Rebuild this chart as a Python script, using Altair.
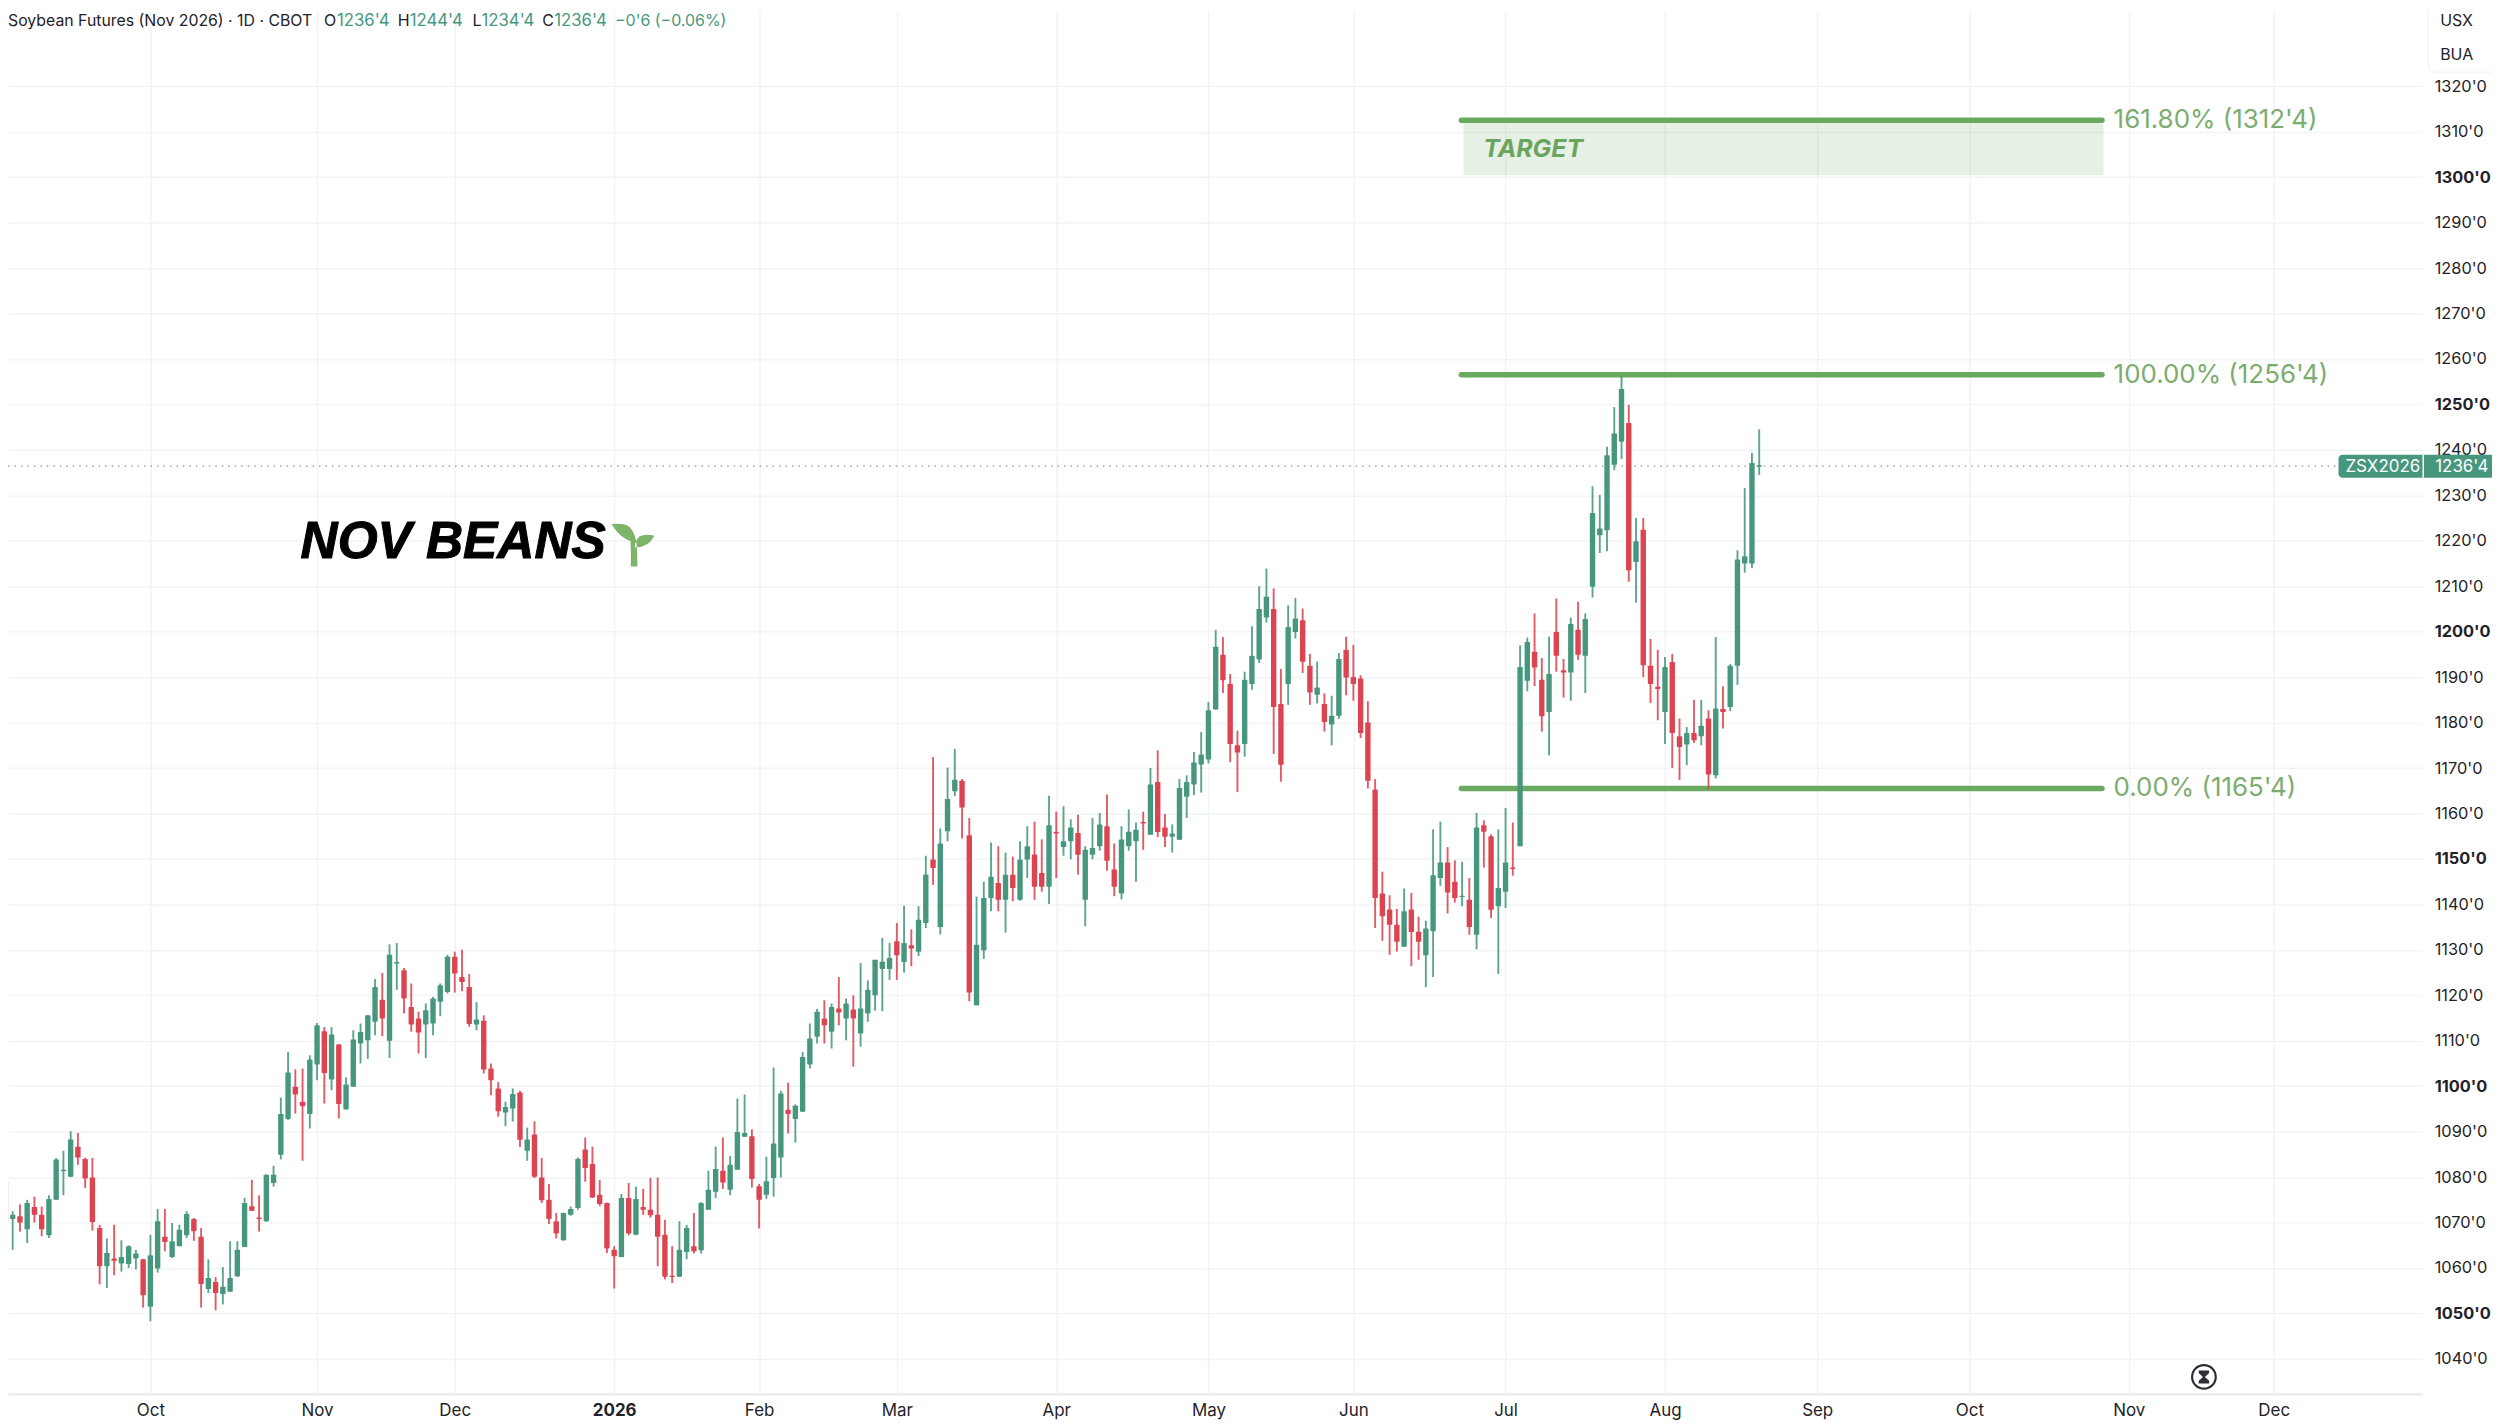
import json
import altair as alt
import pandas as pd

# daily candles, oldest first: body top, body bottom, high, low
body_top = [
1079,1071.7,1071.4,1074.3,1073.4,1071.7,1075.2,1083.9,1081.6,1088.3,
1086.7,1084,1079.9,1068.8,1063.3,1062.1,1062.4,1064.8,1063.2,1061.9,
1062.8,1070.3,1066.9,1065.9,1068.4,1071.9,1070.8,1066.9,1057.8,1056.9,
1055.9,1057.8,1064,1074.3,1073.6,1071.1,1080.5,1080.5,1093.9,1103,
1099.9,1096.6,1105.9,1113.4,1112.1,1111.4,1109.2,1100.4,1110.3,1111.9,
1115.6,1121.8,1119,1128.9,1127.3,1125.5,1117.4,1114.9,1116.7,1119.3,
1122.2,1128.5,1128.5,1124,1121.8,1114.7,1114.4,1103.9,1099.5,1095.4,
1098.3,1098.6,1088.3,1089.4,1079.9,1075,1070.3,1072.1,1073,1084,
1086.1,1082.9,1076.1,1074.3,1064,1075.4,1075.4,1075.2,1073.4,1072.8,
1071.7,1067.3,1058.3,1064,1068.8,1064.8,1074.3,1077.2,1081.8,1081.4,
1082.7,1089.9,1089.7,1089,1078,1079.1,1087.4,1098.4,1094.8,1095.7,
1106.4,1110.5,1116.4,1114.9,1117.4,1117.1,1118.2,1116.9,1117.1,1121.2,
1127.8,1127.4,1128.2,1131.9,1131.5,1131,1136.6,1146.6,1149.9,1153.4,
1163.2,1167.4,1167.2,1155.2,1131.1,1141.4,1146.1,1144.7,1146.5,1146.5,
1149.9,1152.8,1151,1146.9,1157.4,1155.9,1153.9,1156.9,1155.7,1152,
1152.4,1157.6,1157.2,1147.7,1154.3,1156,1156.4,1158.1,1166.4,1166.9,
1156.9,1155.6,1165.6,1166.9,1171.2,1173,1182.7,1196.7,1194.9,1188.5,
1175,1189.4,1194.7,1205,1207.7,1205,1184.1,1201,1202.9,1202.5,
1192.5,1187.7,1184.1,1181.5,1194,1196,1190,1189.7,1180,1165.3,
1142.4,1138.9,1135.5,1138.5,1138.9,1134,1134.7,1146.4,1149.2,1149.2,
1145,1141.9,1141,1156.9,1157.4,1155,1143.6,1149.2,1148.1,1192.2,
1197.7,1195.6,1189.4,1190.7,1199.9,1191.5,1201.7,1200.4,1202.8,1226.1,
1222.7,1238.8,1243.6,1253.4,1245.9,1219.9,1222.4,1192.5,1187.9,1192.2,
1193.3,1177,1177.7,1177.7,1179.3,1180.9,1183.1,1183,1192.5,1215.9,
1216.6,1237.1,1236.6]
body_bottom = [
1070,1070.8,1070,1068.5,1071.7,1068.5,1067.2,1075,1081.3,1080.1,
1084.3,1079.7,1070.1,1060.4,1060.4,1061.6,1061,1060.9,1062.1,1054,
1051.5,1059.9,1065.7,1062.4,1064.8,1067.2,1068.1,1056.5,1055.4,1054.5,
1054.3,1054.8,1058.2,1064.6,1072.6,1070.8,1070.3,1078.7,1084.9,1092.8,
1098.2,1095.6,1093.9,1104.8,1102.9,1101.5,1096.1,1094.9,1099.9,1109.4,
1110.1,1114.2,1114.9,1110,1127,1119.3,1113.6,1111.8,1113.6,1113.8,
1118.6,1120.7,1124.8,1122.9,1113.7,1113.6,1103.7,1101.3,1094.5,1094.2,
1095.1,1088.2,1085.8,1080.1,1074.9,1070.8,1067.6,1066.1,1071.7,1073.2,
1082,1075.5,1074.1,1064.3,1062.6,1062.4,1067.6,1067.3,1072.8,1071.6,
1066.9,1058.1,1058,1058.1,1063.5,1063.7,1063.9,1072.8,1076.8,1078.8,
1077.2,1081.6,1088.9,1079.6,1075,1076.1,1079.8,1084.3,1093.9,1092.8,
1094.4,1104.8,1110.9,1113.4,1112,1116.2,1114.9,1114.9,1111.6,1116,
1120,1125.8,1125.8,1128.8,1127.3,1130.3,1129.6,1135.9,1148,1135,
1156.1,1164.9,1161.3,1120.6,1117.8,1129.9,1141.4,1141,1141,1143.6,
1141,1149.9,1143.9,1143.9,1143.9,1155.6,1152.6,1153.9,1150.9,1141,
1150.9,1152.8,1149.6,1143.9,1142.4,1152.8,1153.9,1157.8,1155.3,1155.9,
1154.9,1154.9,1154.2,1163.7,1166.4,1170.8,1171.9,1182.9,1189.3,1175.3,
1173.4,1175.3,1188.5,1193.9,1203.1,1183.4,1170.7,1188.5,1199.9,1193.4,
1186.6,1186.1,1180.1,1179.6,1181.5,1189.9,1188.5,1177.7,1167.2,1141.4,
1137.4,1135.5,1131.8,1130.7,1133.9,1131.8,1128.8,1134.1,1145.8,1142.6,
1141.4,1141.6,1135,1133.3,1156,1138.8,1139.6,1142.8,1147.8,1152.8,
1189.2,1192.1,1181.4,1182.3,1194.7,1191,1191,1194.9,1194.7,1209.9,
1221.2,1222.3,1236.7,1241.8,1213.5,1215.3,1192.6,1188.5,1187.4,1182.3,
1177.7,1174.6,1175.2,1176.1,1177,1168.6,1168.4,1182.3,1183.4,1192.5,
1215,1215,1236.3]
high = [
1082,1072.5,1074,1075,1075.7,1073.5,1076,1084.2,1085.8,1090.1,
1089.7,1084.3,1084.2,1069.5,1066.5,1069.5,1066.1,1065,1064,1062,
1067.3,1073,1073,1069.9,1069.5,1072.5,1071,1068.8,1061.9,1058,
1060.2,1065.9,1065.9,1075.4,1079.4,1076,1080.6,1082.5,1097.5,1107.5,
1103.7,1103.9,1106.8,1113.9,1113,1113,1109.3,1101.9,1112.3,1113.8,
1115.6,1123.6,1124.9,1131.2,1131.5,1126,1122.6,1116.4,1118.2,1119.6,
1122.6,1128.9,1129.6,1130,1124.7,1118.5,1115.6,1105,1100.9,1096.6,
1099.5,1099,1090.9,1092.3,1084.2,1078.5,1072.1,1072.2,1073.5,1084.3,
1088.7,1086.7,1079.4,1074.4,1064.8,1076.3,1078.7,1077.9,1077.4,1079.8,
1079.9,1070.6,1064.8,1070.3,1069.5,1072.1,1074.5,1081.4,1086.7,1088.7,
1084.7,1097.3,1098.2,1090.5,1078.5,1084.5,1104.1,1099,1100.8,1096,
1107.5,1113.8,1117,1118.9,1118.2,1124,1119.3,1120,1127.1,1123.3,
1127.8,1132.6,1131.5,1135.9,1139.7,1134.5,1139.6,1150.7,1172.4,1156.7,
1170.1,1174.2,1167.6,1159,1141.7,1145,1153.6,1152.8,1151.4,1150.5,
1153.9,1157.2,1158.2,1154.3,1163.9,1160.4,1161.6,1158.7,1159.7,1152.8,
1159,1160.1,1164.2,1153.4,1157.2,1160.9,1158,1160.4,1170,1173.9,
1159.9,1157.6,1167.6,1168.4,1173.5,1177.9,1184.5,1200.4,1198.8,1190.7,
1178.2,1191.2,1201.2,1210,1213.9,1209.5,1191.8,1205.8,1207.4,1205.1,
1195.1,1193.4,1186.4,1185.9,1195.3,1198.9,1197.1,1190.4,1184.7,1167.6,
1147.2,1142,1139,1143.5,1142.5,1137.3,1136.4,1156.5,1158.2,1152.6,
1149.7,1149.4,1145.8,1160.1,1158.5,1155.4,1156.5,1161.2,1158,1197,
1198.7,1204,1194.2,1198.9,1207.3,1194,1203.1,1206.6,1204,1232,
1230.1,1240.7,1249.4,1256.5,1249.9,1225,1225,1198.4,1196,1194.4,
1195.1,1180.9,1179,1185,1185,1182.7,1198.8,1188,1192.9,1217.9,
1231.6,1239.3,1244.5]
low = [
1069,1064,1068,1065.5,1070,1067,1066.6,1075,1076,1080,
1082.7,1077.6,1068.2,1056.4,1055.6,1058.4,1059.2,1060,1059.7,1051.3,
1048.3,1059,1063.7,1062.2,1064.8,1066.6,1066,1051.3,1054.5,1050.7,
1052,1054.8,1058,1064.6,1072.6,1068,1070.2,1077.9,1083.9,1092.6,
1094,1083.6,1090.7,1101.3,1096.2,1099.1,1092.9,1094.9,1099.9,1105,
1106,1111.2,1111,1106.2,1121.2,1116,1112,1107.2,1106.2,1111.2,
1115.4,1120.4,1120.6,1120.9,1113.1,1112.3,1102.8,1098,1093.3,1091.2,
1092.2,1086.6,1083.6,1079.8,1074.3,1069.7,1066.5,1066,1071.5,1072.8,
1079,1075.4,1073.6,1063.3,1055.5,1062.4,1067.2,1067.2,1071.7,1071.1,
1060.4,1057.5,1056.7,1058,1061.9,1063.2,1063.2,1072.8,1075.4,1077.4,
1076,1081.6,1088.9,1077.7,1068.7,1075.2,1075.7,1079.9,1089.6,1087.6,
1094.4,1103.9,1109.4,1109.4,1108.3,1113.4,1110.1,1104.3,1108.7,1114.2,
1116.6,1116.5,1123.4,1123.4,1125,1126.4,1128.6,1134.8,1144.3,1133.4,
1153.9,1163.8,1154.5,1118.7,1117.8,1128,1138.5,1138.5,1133.8,1140.7,
1140.8,1145.8,1141,1142.8,1140.1,1145.8,1150.7,1149.9,1146.6,1135.2,
1149.9,1151.8,1147.4,1141.8,1141.1,1151.8,1145,1152,1155.3,1154.8,
1152.6,1151.4,1154.2,1159,1164,1164.6,1171,1182.9,1186.5,1171.3,
1164.7,1172.5,1187.2,1193.1,1202,1173.1,1167,1183.9,1198.5,1190.9,
1183.9,1184.2,1178,1175,1180.8,1186,1184.8,1176.6,1165.5,1134.8,
1132,1128.9,1129.6,1130.7,1126.4,1127.8,1121.8,1124,1144.1,1138,
1140.4,1139.6,1133.3,1130.1,1148.1,1137,1124.7,1139.2,1146.3,1152.8,
1186.9,1188,1178,1172.8,1191.2,1185.5,1184.8,1193.8,1186.5,1207.5,
1217.3,1217.7,1235.5,1238,1211,1206.4,1190,1184.3,1180.5,1175.3,
1170,1167.4,1170.6,1175.5,1175,1165.3,1167.7,1178.7,1182.5,1188.3,
1213,1214,1234.5]
# sessions (by position in the lists above) that closed lower than they opened
down_days = [0,2,4,5,10,11,12,13,15,19,22,26,27,29,34,35,40,41,44,46,52,55,56,57,62,63,64,66,67,68,
71,73,74,75,76,80,81,82,83,84,86,88,89,90,91,92,95,99,103,104,108,113,115,117,123,125,128,132,133,137,139,
142,143,145,148,152,153,157,159,160,168,169,170,175,176,179,180,182,185,186,187,188,189,190,191,192,194,195,
199,200,202,204,205,208,211,212,214,215,217,224,226,227,228,230,231,233,235,237]

month_at = [20,43,62,84,104,123,145,166,186,207,229,250,271,293,313]
month_name = ["Oct","Nov","Dec","2026","Feb","Mar","Apr","May","Jun","Jul","Aug","Sep","Oct","Nov","Dec"]
price_ticks = list(range(1040,1330,10))

fib_levels = [1312.5,1256.5,1165.5]
fib_labels = ["161.80% (1312'4)","100.00% (1256'4)","0.00% (1165'4)"]
last_close = 1236.4

df = pd.DataFrame({"i":range(len(high)),"top":body_top,"bot":body_bottom,"high":high,"low":low})
df["dir"] = ["r" if k in down_days else "g" for k in df["i"]]

GREEN="#47977f"; RED="#db4450"; LINE="#6aa95f"; LAB="#7bad6e"; INK="#1f2228"; GRID="#f2f3f5"
FONT="Inter"

xs = alt.Scale(domain=[1.041,332.8],nice=False,zero=False)
ys = alt.Scale(domain=[1032.32,1336.71],nice=False,zero=False)
col = alt.Color("dir:N",scale=alt.Scale(domain=["g","r"],range=[GREEN,RED]),legend=None)

x_axis = alt.Axis(values=month_at,title=None,grid=True,gridColor=GRID,gridWidth=1.5,ticks=False,
    domainColor="#ebecee",domainWidth=2.5,labelFont=FONT,labelFontSize=17,labelColor=INK,labelPadding=9,
    labelOverlap=False,labelFlush=False,labelBound=False,
    labelExpr=f"{json.dumps(month_name)}[indexof({json.dumps(month_at)}, datum.value)]",
    labelFontWeight=alt.condition("datum.value == 84",alt.value("bold"),alt.value("normal")))
y_axis = alt.Axis(values=price_ticks,orient="right",title=None,grid=True,gridColor=GRID,gridWidth=1.5,
    ticks=False,domain=False,labelFont=FONT,labelFontSize=16.4,labelColor=INK,labelPadding=12,labelAlign="left",
    labelOverlap=False,labelFlush=False,labelBound=False,labelExpr="datum.value + \"'0\"",
    labelFontWeight=alt.condition("datum.value % 50 == 0",alt.value("bold"),alt.value("normal")))

Xf = lambda f: alt.X(f,scale=xs,axis=x_axis)
Yf = lambda f: alt.Y(f,scale=ys,axis=y_axis)

target = alt.Chart(pd.DataFrame({"a":[201.2],"b":[289.5],"p":[1312.5],"q":[1300.4]})).mark_rect(
    color=LINE,opacity=0.17).encode(x=Xf("a:Q"),x2="b:Q",y=Yf("p:Q"),y2="q:Q")

lines = alt.Chart(pd.DataFrame({"a":[200.9]*3,"b":[289.3]*3,"p":fib_levels})).mark_rule(
    color=LINE,strokeWidth=5.5,strokeCap="round").encode(x=Xf("a:Q"),x2="b:Q",y=Yf("p:Q"))

dotted = alt.Chart(pd.DataFrame({"p":[last_close]})).mark_rule(color="#8b9099",strokeWidth=1.2,strokeDash=[1.5,5]).encode(
    x=alt.value(0),x2=alt.value(2338),y=Yf("p:Q"))

wicks = alt.Chart(df).mark_rule(strokeWidth=1.9,opacity=0.88).encode(x=Xf("i:Q"),y=Yf("low:Q"),y2="high:Q",color=col)
bodies = alt.Chart(df).mark_bar(size=5.4,cornerRadius=0.6).encode(x=Xf("i:Q"),y=Yf("top:Q"),y2="bot:Q",color=col)

fib_text = alt.Chart(pd.DataFrame({"t":fib_labels,"p":fib_levels,"a":[290.9]*3})).mark_text(
    align="left",baseline="middle",font=FONT,fontSize=26,color=LAB).encode(x=Xf("a:Q"),y=Yf("p:Q"),text="t:N")

def label(text,x,y,size,color=INK,align="left",**kw):
    return alt.Chart(pd.DataFrame({"t":[text]})).mark_text(align=align,baseline="middle",font=kw.pop("font",FONT),
        fontSize=size,color=color,**kw).encode(x=alt.value(x),y=alt.value(y),text="t:N")

head = [("Soybean Futures (Nov 2026) · 1D · CBOT",0,15.9,INK),("O",317,16,INK),("1236'4",330,16.8,GREEN),("H",391,16,INK),
        ("1244'4",403,16.8,GREEN),("L",466,16,INK),("1234'4",475,16.8,GREEN),("C",536,16,INK),("1236'4",548,16.8,GREEN),
        ("\u22120'6 (\u22120.06%)",609,16,GREEN)]
heads = [label(t,x,11,s,c) for t,x,s,c in head]

target_text = label("TARGET",1480,139,25,"#6aa55f",fontWeight="bold",fontStyle="italic")
title_text = label("NOV BEANS",293.5,534,51.5,"#000000",font="Liberation Sans",fontWeight="bold",fontStyle="italic",
    stroke="#000000",strokeWidth=1)

sprout = "M-0.98 -0.98 Q-0.4 -1.05 -0.15 -0.85 Q0.1 -0.55 0.15 -0.15 Q-0.5 -0.2 -0.98 -0.98Z M0.98 -0.45 Q0.55 -0.55 0.3 -0.42 Q0.1 -0.2 0.08 0.08 Q0.7 0.1 0.98 -0.45Z M-0.12 -0.25 L0.15 -0.25 Q0.2 0.3 0.2 0.95 L-0.1 0.95 Q-0.08 0.3 -0.12 -0.25Z"
sprout_mark = alt.Chart(pd.DataFrame({"k":[1]})).mark_point(shape=sprout,filled=True,size=1936,color="#7eb36a",opacity=1,strokeWidth=0).encode(
    x=alt.value(627),y=alt.value(537))

hour_ring = alt.Chart(pd.DataFrame({"k":[1]})).mark_point(shape="circle",size=560,filled=False,color="#2c2f36",strokeWidth=2.2,opacity=1).encode(
    x=alt.value(2203),y=alt.value(1371))
glass = "M-0.8 -1 L0.8 -1 L0.8 -0.6 L0.15 0 L0.8 0.6 L0.8 1 L-0.8 1 L-0.8 0.6 L-0.15 0 L-0.8 -0.6Z"
hour_in = alt.Chart(pd.DataFrame({"k":[1]})).mark_point(shape=glass,size=170,filled=True,color="#2c2f36",opacity=1,strokeWidth=0).encode(
    x=alt.value(2203),y=alt.value(1371))

box = alt.Chart(pd.DataFrame({"k":[1]})).mark_rect(fill="#ffffff",stroke="#f1f2f4",strokeWidth=1.2,cornerRadius=6).encode(
    x=alt.value(2428),x2=alt.value(2500),y=alt.value(-5),y2=alt.value(62))
unit1 = label("USX",2440,11,16)
unit2 = label("BUA",2440,45,16)

tag = alt.Chart(pd.DataFrame({"k":[1]})).mark_rect(fill=GREEN,cornerRadius=4).encode(
    x=alt.value(2338),x2=alt.value(2500),y=alt.value(446),y2=alt.value(469))
tag_div = alt.Chart(pd.DataFrame({"k":[1]})).mark_rule(color="#ffffff",strokeWidth=1.5).encode(
    x=alt.value(2423),y=alt.value(446),y2=alt.value(469))
tag1 = label("ZSX2026",2345,458,17,"#ffffff")
tag2 = label("1236'4",2435,458,17,"#ffffff")

chart = alt.layer(target,lines,dotted,wicks,bodies,fib_text,*heads,target_text,title_text,sprout_mark,hour_ring,hour_in,
    box,unit1,unit2,tag,tag_div,tag1,tag2).properties(
    width=2422,height=1388,padding={"left":0,"top":0,"right":70,"bottom":32},
    autosize=alt.AutoSizeParams(type="none"),background="#ffffff").configure_view(stroke=None)
chart.save("out.html",embed_options={"renderer":"svg","actions":False})
